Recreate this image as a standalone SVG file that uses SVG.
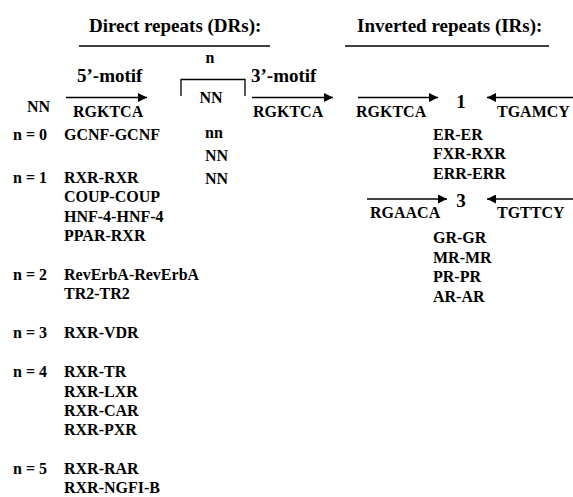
<svg xmlns="http://www.w3.org/2000/svg" width="573" height="497" viewBox="0 0 573 497">
<style>
text{font-family:"Liberation Serif","Times New Roman",serif;font-weight:bold;fill:#000}
.h{font-size:19px}
.b{font-size:16px}
.m{font-size:19px}
.c{stroke:#000;stroke-width:1.3;fill:none}
</style>
<defs>
<marker id="ah" viewBox="0 0 10 10" markerUnits="userSpaceOnUse" markerWidth="10" markerHeight="9" refX="10" refY="5" orient="auto">
<path d="M0,0 L10,5 L0,10 z" fill="#000"/>
</marker>
</defs>
<rect width="573" height="497" fill="#fff"/>
<g id="headers">
<text class="h" x="89" y="32">Direct repeats (DRs):</text>
<line class="c" x1="79" y1="46" x2="270" y2="46"/>
<text class="h" x="357" y="32">Inverted repeats (IRs):</text>
<line class="c" x1="345" y1="46" x2="549" y2="46"/>
</g>
<g id="spacer">
<text class="b" x="210" y="63" text-anchor="middle">n</text>
<path class="c" d="M181,96 V79.5 H245 V96"/>
<text class="b" x="211" y="103" text-anchor="middle">NN</text>
</g>
<g id="motif5">
<text class="m" x="77" y="82">5’-motif</text>
<text class="b" x="73" y="117">RGKTCA</text>
</g>
<g id="motif3">
<text class="m" x="251" y="82">3’-motif</text>
<text class="b" x="253" y="117">RGKTCA</text>
</g>
<g id="ir1">
<text class="b" x="356" y="117">RGKTCA</text>
<text class="m" x="461" y="108" text-anchor="middle">1</text>
<text class="b" x="497" y="117">TGAMCY</text>
<text class="b" x="433" y="140">ER-ER</text>
<text class="b" x="433" y="159">FXR-RXR</text>
<text class="b" x="433" y="179">ERR-ERR</text>
</g>
<g id="ir3">
<text class="b" x="370" y="218">RGAACA</text>
<text class="m" x="461" y="207" text-anchor="middle">3</text>
<text class="b" x="497" y="218">TGTTCY</text>
<text class="b" x="433" y="243">GR-GR</text>
<text class="b" x="433" y="263">MR-MR</text>
<text class="b" x="433" y="282">PR-PR</text>
<text class="b" x="433" y="302">AR-AR</text>
</g>
<g id="dr-list">
<text class="b" x="27" y="112">NN</text>
<text class="b" x="205" y="138">nn</text>
<text class="b" x="205" y="161">NN</text>
<text class="b" x="205" y="184">NN</text>
<text class="b" x="13" y="140">n = 0</text>
<text class="b" x="64" y="140">GCNF-GCNF</text>
<text class="b" x="13" y="183">n = 1</text>
<text class="b" x="64" y="183">RXR-RXR</text>
<text class="b" x="64" y="202">COUP-COUP</text>
<text class="b" x="64" y="222">HNF-4-HNF-4</text>
<text class="b" x="64" y="241">PPAR-RXR</text>
<text class="b" x="13" y="280">n = 2</text>
<text class="b" x="64" y="280">RevErbA-RevErbA</text>
<text class="b" x="64" y="299">TR2-TR2</text>
<text class="b" x="13" y="338">n = 3</text>
<text class="b" x="64" y="338">RXR-VDR</text>
<text class="b" x="13" y="377">n = 4</text>
<text class="b" x="64" y="377">RXR-TR</text>
<text class="b" x="64" y="397">RXR-LXR</text>
<text class="b" x="64" y="416">RXR-CAR</text>
<text class="b" x="64" y="435">RXR-PXR</text>
<text class="b" x="13" y="474">n = 5</text>
<text class="b" x="64" y="474">RXR-RAR</text>
<text class="b" x="64" y="493">RXR-NGFI-B</text>
</g>
<g id="connectors">
<line class="c" x1="66" y1="97.5" x2="147" y2="97.5" marker-end="url(#ah)"/>
<line class="c" x1="252" y1="97.5" x2="333" y2="97.5" marker-end="url(#ah)"/>
<line class="c" x1="358" y1="97.5" x2="438" y2="97.5" marker-end="url(#ah)"/>
<line class="c" x1="573" y1="97.5" x2="487" y2="97.5" marker-end="url(#ah)"/>
<line class="c" x1="367" y1="199" x2="447" y2="199" marker-end="url(#ah)"/>
<line class="c" x1="573" y1="199" x2="487" y2="199" marker-end="url(#ah)"/>
</g>
</svg>
